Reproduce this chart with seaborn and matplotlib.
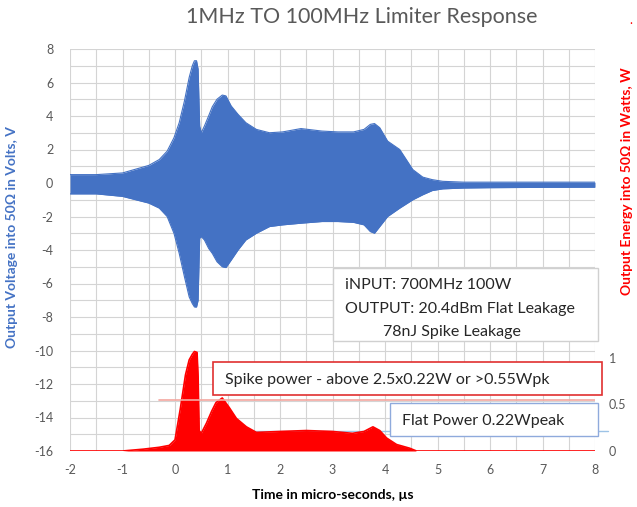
import matplotlib
matplotlib.use("Agg")
import matplotlib.pyplot as plt
import seaborn as sns
import pandas as pd
from matplotlib.patches import Rectangle

# ---------------- data ----------------
title = "1MHz TO 100MHz Limiter Response"
x_label = "Time in micro-seconds, \u00b5s"
y_label_left = "Output Voltage into 50\u03a9 in Volts, V"
y_label_right = "Output Energy into 50\u03a9 in Watts, W"

x_ticks = [-2, -1, 0, 1, 2, 3, 4, 5, 6, 7, 8]
v_ticks = [-16, -14, -12, -10, -8, -6, -4, -2, 0, 2, 4, 6, 8]
p_ticks = [0, 0.5, 1]

# voltage envelope (upper / lower) vs time (us)
t_v = [-2, -1.5, -1.0, -0.5, -0.3, -0.15, -0.02, 0.08, 0.18, 0.27, 0.33, 0.37,
       0.41, 0.44, 0.47, 0.5, 0.56, 0.64, 0.71, 0.8, 0.9, 0.97, 1.07, 1.2, 1.35,
       1.55, 1.8, 2.05, 2.4, 2.8, 3.1, 3.4, 3.6, 3.72, 3.8, 3.9, 4.05, 4.28,
       4.53, 4.72, 4.9, 5.1, 5.5, 6, 7, 8]
v_upper = [0.5, 0.5, 0.6, 1.05, 1.4, 1.9, 2.7, 3.6, 4.9, 6.3, 7.0, 7.3,
           7.3, 6.8, 3.4, 3.0, 3.4, 4.0, 4.55, 5.0, 5.25, 5.2, 4.6, 4.1, 3.6,
           3.2, 3.0, 3.05, 3.25, 3.1, 3.05, 3.05, 3.2, 3.5, 3.55, 3.3, 2.5, 2.0,
           0.8, 0.35, 0.2, 0.1, 0.05, 0.05, 0.05, 0.05]
v_lower = [-0.65, -0.65, -0.8, -1.2, -1.5, -2.0, -3.0, -4.2, -5.6, -6.8, -7.2, -7.4,
           -7.4, -7.0, -3.3, -3.2, -3.4, -3.9, -4.2, -4.7, -5.0, -5.05, -4.6, -4.0, -3.4,
           -3.0, -2.6, -2.5, -2.4, -2.3, -2.3, -2.35, -2.5, -2.9, -3.0, -2.6, -2.0, -1.5,
           -1.0, -0.7, -0.45, -0.35, -0.3, -0.28, -0.26, -0.25]

# output power vs time (us)
t_p = [-2, -1, -0.6, -0.3, -0.11, 0.0, 0.1, 0.2, 0.27, 0.33, 0.37, 0.42, 0.44,
       0.46, 0.5, 0.6, 0.7, 0.78, 0.9, 1.03, 1.17, 1.36, 1.55, 2.0, 2.5, 3.0,
       3.38, 3.6, 3.77, 3.9, 4.03, 4.22, 4.47, 4.6, 8]
p_watts = [0, 0, 0.02, 0.04, 0.06, 0.12, 0.45, 0.82, 0.98, 1.04, 1.07, 1.06, 0.8,
           0.22, 0.19, 0.3, 0.43, 0.52, 0.57, 0.47, 0.35, 0.26, 0.2, 0.21, 0.22, 0.21,
           0.19, 0.21, 0.26, 0.22, 0.14, 0.07, 0.03, 0.0, 0]

spike_threshold = 0.55
flat_level = 0.22

info_lines = ["iNPUT: 700MHz 100W", "OUTPUT: 20.4dBm Flat Leakage", "78nJ Spike Leakage"]
spike_text = "Spike power - above 2.5x0.22W or >0.55Wpk"
flat_text = "Flat Power 0.22Wpeak"

# ---------------- style ----------------
sns.set_theme(style="white")
plt.rcParams["font.family"] = ["Lato", "DejaVu Sans"]

W, H = 637, 507
fig = plt.figure(figsize=(W / 100, H / 100), dpi=100)

def fx(x):
    return x / W

def fy(y):
    return 1 - y / H

L, R, T, B = 70, 595, 49, 451
ax = fig.add_axes([fx(L), fy(B), (R - L) / W, (B - T) / H])
ax2 = ax.twinx()

blue = "#4472C4"
red = "#FF0000"
grid_c = "#d4d4d4"
tick_c = "#595959"

df_v = pd.DataFrame({"t": t_v, "upper": v_upper, "lower": v_lower})
df_p = pd.DataFrame({"t": t_p, "p": p_watts})

# voltage envelope
sns.lineplot(data=df_v, x="t", y="upper", ax=ax, color=blue, lw=0.8, zorder=3)
sns.lineplot(data=df_v, x="t", y="lower", ax=ax, color=blue, lw=0.8, zorder=3)
ax.fill_between(df_v["t"], df_v["lower"], df_v["upper"], color=blue, lw=0, zorder=3)

# power
sns.lineplot(data=df_p, x="t", y="p", ax=ax2, color=red, lw=1.2, zorder=3)
ax2.fill_between(df_p["t"], 0, df_p["p"], color=red, lw=0, zorder=3)

# axes limits & grid
ax.set_xlim(-2, 8)
ax.set_ylim(-16, 8)
ax2.set_ylim(0, (B - T) / 93.0)

ax.set_xticks([x / 2 for x in range(-4, 17)], minor=True)
ax.set_yticks(list(range(-16, 9)), minor=True)
ax.set_xticks(x_ticks)
ax.set_yticks(v_ticks)
ax.grid(True, which="both", color=grid_c, lw=0.8, zorder=0)
ax.set_axisbelow(True)
ax2.set_yticks(p_ticks)
ax2.set_yticklabels(["0", "0.5", "1"])
ax2.grid(False)

for a in (ax, ax2):
    for s in a.spines.values():
        s.set_visible(False)
ax.tick_params(axis="both", which="both", length=0, colors=tick_c, labelsize=9)
ax.tick_params(axis="y", pad=12)
ax.tick_params(axis="x", pad=9)
ax2.tick_params(axis="y", length=0, colors=tick_c, labelsize=9, pad=10)

ax.set_xticklabels([str(v) for v in x_ticks])
ax.set_yticklabels([str(v) for v in v_ticks])

ax.set_xlabel(x_label, fontsize=10, fontweight="bold", color="black", labelpad=10)
ax.set_ylabel(y_label_left, fontsize=10, fontweight="bold", color=blue)
ax.yaxis.set_label_coords((18 - L) / (R - L), (B - 237) / (B - T))
ax2.set_ylabel(y_label_right, fontsize=10, fontweight="bold", color=red)
ax2.yaxis.set_label_coords((621 - L) / (R - L), (B - 181) / (B - T))

# threshold lines
ax2.plot([-0.3, 8], [spike_threshold, spike_threshold], color="#F4A7A0", lw=1.2, zorder=4)
ax2.plot([1.2, 8.25], [flat_level, flat_level], color="#9DC3E6", lw=1.0, zorder=2, clip_on=False)

# title
fig.text(fx(362), fy(17), title, ha="center", va="center", fontsize=15.5, color=tick_c)
fig.text(fx(631), fy(20), ".", ha="center", va="center", fontsize=9, color=red)

# boxes
def box(x0, y0, x1, y1, ec, lw):
    r = Rectangle((fx(x0), fy(y1)), fx(x1) - fx(x0), fy(y0) - fy(y1),
                  transform=fig.transFigure, facecolor="white", edgecolor=ec, lw=lw, zorder=10)
    fig.patches.append(r)

box(333, 268, 598, 341, "#d0d0d0", 1.0)
box(213, 362, 602, 395, "#E03030", 1.2)
box(390, 403, 598, 436, "#8FAADC", 1.0)

fs = 11.5
fig.text(fx(345), fy(285), info_lines[0], ha="left", va="center", fontsize=fs, color="#262626", zorder=11)
fig.text(fx(345), fy(309), info_lines[1], ha="left", va="center", fontsize=fs, color="#262626", zorder=11)
fig.text(fx(383), fy(332), info_lines[2], ha="left", va="center", fontsize=fs, color="#262626", zorder=11)
fig.text(fx(225), fy(380), spike_text, ha="left", va="center", fontsize=fs, color="#262626", zorder=11)
fig.text(fx(402), fy(421), flat_text, ha="left", va="center", fontsize=fs, color="#262626", zorder=11)

fig.savefig("out.png", dpi=100)
